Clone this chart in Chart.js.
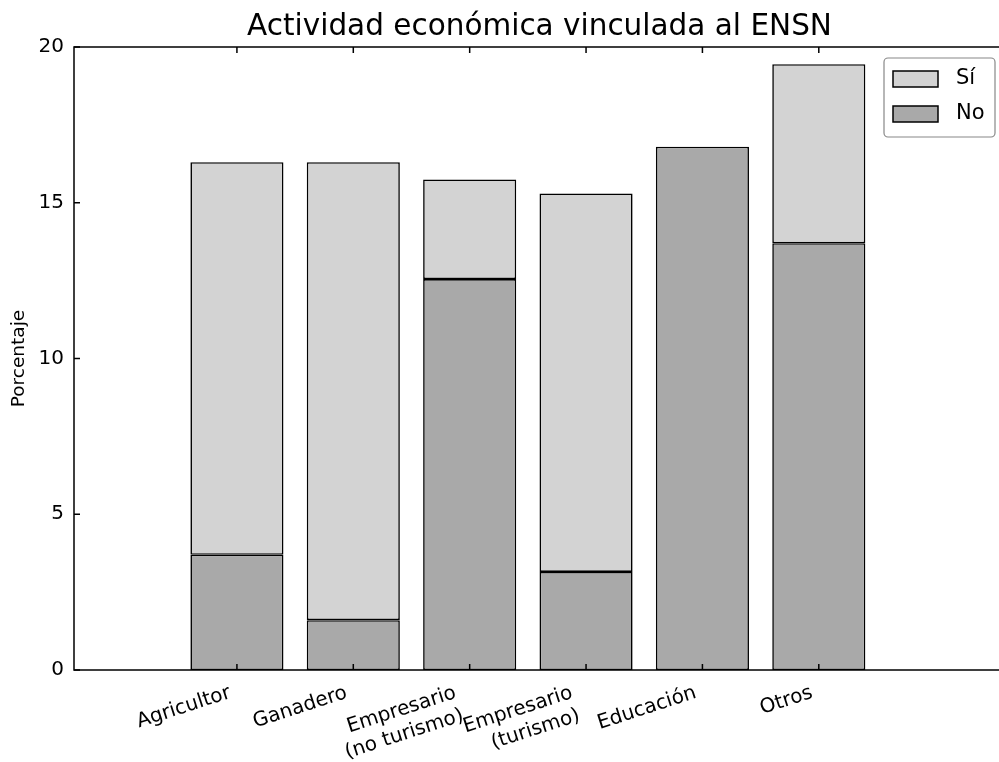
<!DOCTYPE html>
<html lang="es">

<head>
    <meta charset="UTF-8">
    <title>Actividad económica vinculada al ENSN</title>
    <script src="https://cdn.jsdelivr.net/npm/chart.js"></script>
    <style>
        html, body { margin: 0; padding: 0; overflow: hidden; background: #fff; }
    </style>
</head>

<body>
    <canvas id="myChart" width="1012" height="762"></canvas>

    <script>
        // datos
        const categorias = [['Agricultor'], ['Ganadero'], ['Empresario', '(no turismo)'], ['Empresario', '(turismo)'], ['Educación'], ['Otros']];
        const valoresNo = [3.7, 1.6, 12.55, 3.15, 16.8, 13.7];
        const valoresSi = [12.6, 14.7, 3.2, 12.15, 0, 5.75];
        const ticksY = [0, 5, 10, 15, 20];

        const FUENTE = 'DejaVu Sans';
        const GIRO = 18;             // grados de las etiquetas del eje x
        const PX_POR_UNIDAD = 116.4; // ancho aprox. de una unidad del eje x

        // barras con borde izquierdo en 1, 2, 3... y ancho 0.8 (como plt.bar)
        const centro = (i) => i + 1 + 0.4;

        // las etiquetas giradas se alinean a la derecha por su esquina inferior (ha='right')
        const desplazamiento = (i) => {
            const lineas = categorias[i].length;
            const px = (lineas - 0.5) * 24 * Math.sin(GIRO * Math.PI / 180) + 3;
            return px / PX_POR_UNIDAD;
        };

        // marco, ticks hacia dentro y leyenda
        const marcoPlugin = {
            id: 'marco',
            afterDatasetsDraw(chart) {
                const { ctx, chartArea: a, scales } = chart;
                const x = scales.x, y = scales.y;
                ctx.save();
                ctx.strokeStyle = '#000';
                ctx.lineWidth = 1.5;
                ctx.strokeRect(a.left, a.top, a.right - a.left, a.bottom - a.top);

                ctx.beginPath();
                y.ticks.forEach(t => {
                    const py = y.getPixelForValue(t.value);
                    ctx.moveTo(a.left, py); ctx.lineTo(a.left + 6, py);
                    ctx.moveTo(a.right, py); ctx.lineTo(a.right - 6, py);
                });
                x.ticks.forEach(t => {
                    const px = x.getPixelForValue(t.value);
                    ctx.moveTo(px, a.bottom); ctx.lineTo(px, a.bottom - 6);
                    ctx.moveTo(px, a.top); ctx.lineTo(px, a.top + 6);
                });
                ctx.stroke();

                // leyenda (Sí arriba, No abajo)
                const bx = a.right - 121, by = a.top + 11, bw = 111, bh = 79;
                ctx.fillStyle = '#fff';
                ctx.strokeStyle = '#888';
                ctx.lineWidth = 1.2;
                ctx.beginPath();
                ctx.roundRect(bx, by, bw, bh, 4);
                ctx.fill();
                ctx.stroke();

                const items = chart.data.datasets.slice().reverse();
                items.forEach((ds, k) => {
                    const sy = by + 13 + k * 35;
                    ctx.fillStyle = ds.backgroundColor;
                    ctx.fillRect(bx + 9, sy, 45, 16);
                    ctx.strokeStyle = '#000';
                    ctx.lineWidth = 1.5;
                    ctx.strokeRect(bx + 9, sy, 45, 16);
                    ctx.fillStyle = '#000';
                    ctx.font = '21px "' + FUENTE + '"';
                    ctx.textBaseline = 'middle';
                    ctx.textAlign = 'left';
                    ctx.fillText(ds.label, bx + 72, sy + 8);
                });
                ctx.restore();
            }
        };

        function drawChart(tag) {
            const ctx = document.getElementById(tag);

            const estiloBarra = {
                borderColor: '#000',
                borderWidth: 1.6,
                borderSkipped: false,
                categoryPercentage: 1.0,
                barPercentage: 0.8
            };

            const data = {
                datasets: [
                    Object.assign({
                        label: 'No',
                        data: valoresNo.map((v, i) => ({ x: centro(i), y: v })),
                        backgroundColor: '#a9a9a9'
                    }, estiloBarra),
                    Object.assign({
                        label: 'Sí',
                        data: valoresSi.map((v, i) => ({ x: centro(i), y: v })),
                        backgroundColor: '#d3d3d3'
                    }, estiloBarra)
                ]
            };

            const options = {
                responsive: false,
                animation: false,
                layout: { padding: { left: 0, right: 7, top: 0, bottom: 0 } },
                scales: {
                    // eje de las barras (ticks en el centro de cada barra, sin texto)
                    x: {
                        type: 'linear',
                        stacked: true,
                        offset: false,
                        min: 0,
                        max: 8,
                        display: false,
                        afterBuildTicks: (scale) => {
                            scale.ticks = categorias.map((c, i) => ({ value: centro(i) }));
                        }
                    },
                    // eje solo para las etiquetas giradas
                    xEtiquetas: {
                        axis: 'x',
                        type: 'linear',
                        position: 'bottom',
                        offset: false,
                        min: 0,
                        max: 8,
                        grid: { display: false, drawTicks: false },
                        border: { display: false },
                        afterBuildTicks: (scale) => {
                            scale.ticks = categorias.map((c, i) => ({ value: centro(i) - desplazamiento(i) }));
                        },
                        afterFit: (scale) => { scale.height = 92; },
                        ticks: {
                            autoSkip: false,
                            minRotation: GIRO,
                            maxRotation: GIRO,
                            padding: 11,
                            color: '#000',
                            font: { family: FUENTE, size: 20 },
                            callback: (value, index) => categorias[index]
                        }
                    },
                    y: {
                        stacked: true,
                        min: 0,
                        max: 20,
                        grid: { display: false, drawTicks: false },
                        border: { display: false },
                        afterBuildTicks: (scale) => {
                            scale.ticks = ticksY.map(v => ({ value: v }));
                        },
                        afterFit: (scale) => { scale.width = 74; },
                        ticks: {
                            padding: 10,
                            color: '#000',
                            font: { family: FUENTE, size: 20 }
                        },
                        title: {
                            display: true,
                            text: 'Porcentaje',
                            color: '#000',
                            padding: { top: 8, bottom: 0 },
                            font: { family: FUENTE, size: 18.5 }
                        }
                    }
                },
                plugins: {
                    legend: { display: false },
                    tooltip: { enabled: false },
                    title: {
                        display: true,
                        fullSize: false,
                        text: 'Actividad económica vinculada al ENSN',
                        color: '#000',
                        font: { family: FUENTE, size: 29.5, weight: 'normal', lineHeight: 1.0 },
                        padding: { top: 12.5, bottom: 5 }
                    }
                }
            };

            new Chart(ctx, {
                type: 'bar',
                data: data,
                options: options,
                plugins: [marcoPlugin]
            });
        }

        drawChart('myChart');
    </script>
</body>

</html>
